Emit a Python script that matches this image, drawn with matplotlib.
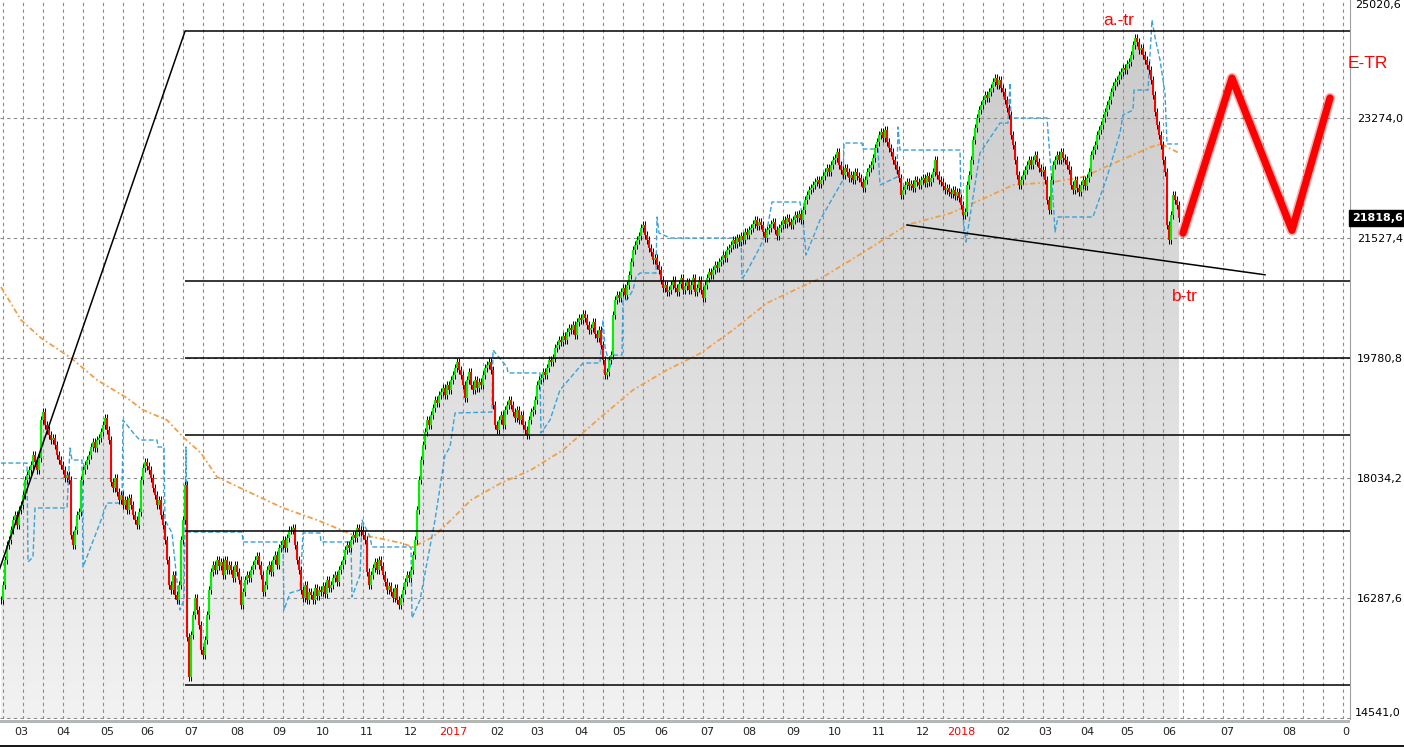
import numpy as np
import matplotlib
matplotlib.use("Agg")
import matplotlib.pyplot as plt
from matplotlib.colors import LinearSegmentedColormap
from matplotlib.patches import PathPatch, Rectangle
from matplotlib.transforms import blended_transform_factory

# daily closes (one bar every 2 px)
closes = [
    16258, 16476, 16840, 17058, 17131, 17277, 17423, 17495, 17350, 17568,
    17641, 17786, 18005, 18077, 18150, 18223, 18368, 18267, 18150, 18325,
    18878, 18995, 18805, 18732, 18660, 18587, 18616, 18514, 18368, 18296,
    18223, 18150, 18034, 18077, 18005, 17204, 17058, 17277, 17495, 17539,
    18005, 18150, 18223, 18296, 18368, 18485, 18558, 18470, 18587, 18616,
    18703, 18805, 18907, 18732, 18587, 17976, 17888, 18034, 17830, 17714,
    17786, 17641, 17714, 17568, 17743, 17641, 17495, 17423, 17350, 17539,
    18005, 18179, 18267, 18209, 18150, 18034, 17888, 17786, 17641, 17714,
    17495, 17350, 17131, 16840, 16476, 16404, 16622, 16331, 16258, 16476,
    17131, 17423, 17932, 15720, 15138, 15749, 16040, 16287, 16112, 15894,
    15531, 15458, 15676, 16040, 16404, 16665, 16767, 16695, 16840, 16753,
    16811, 16622, 16840, 16695, 16767, 16695, 16578, 16767, 16665, 16549,
    16185, 16374, 16549, 16622, 16578, 16695, 16767, 16840, 16898, 16767,
    16622, 16374, 16476, 16695, 16767, 16665, 16840, 16913, 16767, 17015,
    17058, 17131, 17015, 17160, 17277, 17277, 17306, 17058, 16840, 16695,
    16404, 16287, 16476, 16258, 16374, 16331, 16258, 16433, 16316, 16404,
    16374, 16462, 16345, 16549, 16433, 16476, 16578, 16622, 16520, 16695,
    16767, 16840, 16986, 17058, 17015, 17131, 17204, 17160, 17306, 17248,
    17277, 17204, 17131, 16665, 16476, 16622, 16724, 16811, 16695, 16840,
    16753, 16622, 16520, 16404, 16462, 16374, 16287, 16433, 16258, 16185,
    16287, 16404, 16520, 16622, 16578, 16695, 16913, 17131, 17568, 18005,
    18296, 18514, 18703, 18878, 18805, 18951, 19053, 19169, 19125, 19242,
    19286, 19344, 19242, 19388, 19315, 19460, 19533, 19635, 19722, 19606,
    19533, 19388, 19198, 19460, 19577, 19388, 19315, 19460, 19344, 19431,
    19388, 19533, 19635, 19679, 19722, 19606, 19096, 18805, 18732, 18878,
    18951, 18805, 19024, 19096, 19169, 19096, 18995, 18907, 19024, 18878,
    18951, 18805, 18732, 18660, 18878, 18995, 19024, 19169, 19388, 19460,
    19489, 19577, 19533, 19635, 19751, 19722, 19780, 19926, 19970, 20042,
    20013, 20101, 20042, 20159, 20217, 20188, 20261, 20115, 20304, 20363,
    20333, 20421, 20363, 20261, 20188, 20217, 20304, 20130, 20072, 20188,
    19970, 19751, 19533, 19577, 19751, 19824, 20406, 20625, 20697, 20654,
    20741, 20799, 20697, 20843, 20988, 21178, 21353, 21425, 21499, 21556,
    21673, 21716, 21571, 21499, 21382, 21323, 21207, 21236, 21134, 21062,
    20916, 20799, 20843, 20741, 20770, 20843, 20916, 20799, 20741, 20857,
    20945, 20770, 20828, 20887, 20770, 20843, 20945, 20741, 20799, 20916,
    20770, 20654, 20843, 20945, 21032, 20988, 21062, 21134, 21090, 21178,
    21207, 21280, 21236, 21353, 21382, 21425, 21499, 21440, 21527, 21469,
    21556, 21499, 21615, 21571, 21644, 21673, 21731, 21789, 21702, 21760,
    21716, 21615, 21527, 21644, 21673, 21731, 21760, 21644, 21556, 21673,
    21716, 21789, 21731, 21818, 21760, 21716, 21789, 21862, 21818, 21877,
    21789, 21935, 22080, 22153, 22226, 22255, 22298, 22342, 22372, 22313,
    22372, 22430, 22488, 22546, 22488, 22589, 22662, 22691, 22779, 22589,
    22517, 22444, 22546, 22488, 22400, 22444, 22372, 22488, 22430, 22400,
    22342, 22255, 22372, 22488, 22546, 22589, 22691, 22837, 22924, 23026,
    23070, 22982, 23099, 22924, 22837, 22779, 22662, 22589, 22517, 22400,
    22153, 22226, 22298, 22342, 22284, 22313, 22255, 22372, 22342, 22298,
    22372, 22400, 22328, 22430, 22342, 22400, 22488, 22662, 22444, 22372,
    22342, 22284, 22226, 22255, 22197, 22167, 22226, 22138, 22197, 22109,
    22007, 21862, 21905, 22298, 22444, 22662, 22953, 23128, 23274, 23390,
    23463, 23536, 23608, 23565, 23652, 23710, 23798, 23856, 23754, 23827,
    23710, 23652, 23536, 23419, 23317, 23026, 22881, 22662, 22444, 22298,
    22372, 22444, 22517, 22589, 22662, 22589, 22662, 22735, 22633, 22546,
    22488, 22517, 22372, 22080, 21935, 22372, 22589, 22662, 22735, 22662,
    22779, 22691, 22662, 22589, 22517, 22298, 22226, 22372, 22255, 22197,
    22298, 22372, 22284, 22400, 22488, 22735, 22808, 22881, 23026, 23099,
    23172, 23274, 23361, 23463, 23536, 23652, 23739, 23798, 23827, 23900,
    23943, 24001, 23972, 24060, 24089, 24190, 24336, 24438, 24380, 24264,
    24292, 24190, 24118, 24045, 23972, 23827, 23608, 23361, 23172, 23026,
    22881, 22662, 22488, 21716, 21499, 21862, 22153, 22080, 22007, 21818.6,
]
last_price = 21818.6

# 200-bar average (orange)
ma_idx = [0, 10, 20, 35, 48, 63, 71, 83, 91, 100, 108, 125, 141, 158, 175, 186,
          200, 206, 216, 225, 235, 250, 265, 281, 300, 316, 333, 350, 366, 383,
          400, 411, 425, 433, 453, 475, 493, 506, 526, 541, 559, 575, 580, 583, 589]
ma_val = [20814, 20334, 20072, 19781, 19461, 19198, 19024, 18878, 18631, 18398,
          18049, 17816, 17598, 17423, 17219, 17176, 17088, 17030, 17176, 17423,
          17714, 17961, 18151, 18442, 18922, 19315, 19606, 19854, 20188, 20581,
          20814, 20960, 21207, 21353, 21717, 21891, 22124, 22299, 22342, 22415,
          22648, 22852, 22896, 22852, 22765]

# trailing stop line (blue)
stop_idx = [0, 13, 13.5, 16, 17, 33, 34.5, 35.5, 40.5, 41, 49.5, 53, 60.5, 61, 67,
            69.5, 78, 78.5, 81.5, 82, 85.5, 89.5, 91.5, 92.5, 93, 120.5, 121, 141,
            141.5, 144.5, 149.5, 151, 159.5, 160, 175, 175.5, 179.5, 180.5, 184.5,
            185.5, 205, 205.5, 209.5, 217, 222, 224.5, 227, 245.5, 246, 248, 253,
            253.5, 269.5, 270, 274.5, 279.5, 291, 299.5, 301, 302, 304.5, 305.5,
            310.5, 311, 313, 316, 317.5, 319.5, 327.5, 328, 329, 333.5, 334.5, 370,
            370.5, 372, 379.5, 383, 385.5, 399.5, 401, 402.5, 409.5, 421, 421.5,
            430.5, 431, 438.5, 439.5, 448, 448.5, 449.5, 479.5, 480, 482.5, 489.5,
            499.5, 503.5, 504.5, 505, 523, 526, 527, 528.5, 546, 553, 559.5, 561,
            566, 566.5, 573.5, 575.5, 577, 579.5, 582, 583, 588.5]
stop_val = [18252, 18252, 16812, 16884, 17598, 17598, 18471, 18296, 18296, 16739,
            17379, 17670, 17670, 18878, 18660, 18587, 18587, 18485, 18485, 17423,
            17234, 16113, 16259, 18485, 17248, 17248, 17103, 17103, 16113, 16361,
            16404, 17234, 17234, 17103, 17103, 16302, 16622, 17423, 17176, 17030,
            17030, 15996, 16259, 17423, 18369, 18485, 18980, 18995, 19897, 19824,
            19650, 19563, 19563, 18689, 18878, 19315, 19708, 19708, 20334, 19941,
            19650, 19824, 19824, 20625, 20625, 20771, 20960, 21018, 21018, 21833,
            21600, 21542, 21527, 21527, 20945, 20989, 21397, 21644, 22051, 22051,
            21789, 21280, 21789, 22372, 22910, 22910, 22823, 22823, 22299, 22415,
            23143, 22808, 22808, 22080, 21469, 22765, 23201, 23201, 23783, 23274,
            23274, 22124, 21615, 21833, 21833, 22415, 23056, 23318, 23390, 23681,
            23681, 24700, 24453, 24118, 23638, 22896, 22896]

# fibonacci retracement anchors and levels
fib_idx = [-20.7, 92]
fib_price = [15021, 24536]
fib_ratios = [0.0, 0.382, 0.5, 0.618, 0.764, 1.0]

# support trend line
trend_idx = [453, 632]
trend_price = [21717, 20992]

# projected E-TR zigzag
proj_idx = [591, 615.5, 645.5, 664.5]
proj_price = [21600, 23856, 21638, 23565]

price_ticks = [25020.6, 23274.0, 21527.4, 19780.8, 18034.2, 16287.6, 14541.0]

month_idx = [10, 31, 53, 73, 95, 118, 139, 161, 183, 205, 226, 248, 268, 290, 309,
             330, 353, 374, 396, 417, 439, 461, 480, 501, 522, 543, 563, 584, 613,
             644, 674]
month_lbl = ["03", "04", "05", "06", "07", "08", "09", "10", "11", "12", "2017",
             "02", "03", "04", "05", "06", "07", "08", "09", "10", "11", "12",
             "2018", "02", "03", "04", "05", "06", "07", "08", "09"]

n = len(closes)
idx = np.arange(n)
c = np.array(closes)
o = np.concatenate([[c[0]], c[:-1]])
wick = 60
hi = np.maximum(o, c) + wick
lo = np.minimum(o, c) - wick

W, H = 1404, 747
fig = plt.figure(figsize=(W / 100, H / 100), dpi=100)
fig.patch.set_facecolor("white")
ax = fig.add_axes([0, 28 / H, 1350 / W, 719 / H])
xmin, xmax = -0.5, 674.5
ymin, ymax = 14526.5, 24991.5

# grey gradient area under the closes
area = ax.fill_between(idx, c, ymin, color="none", lw=0)
clip = PathPatch(area.get_paths()[0], transform=ax.transData, fc="none", ec="none")
ax.add_patch(clip)
cmap = LinearSegmentedColormap.from_list("g", ["#f2f2f2", "#c9c9c9"])
grad = np.linspace(0, 1, 256).reshape(-1, 1)
im = ax.imshow(grad, extent=[-0.5, n - 0.5, ymin, ymax], origin="lower",
               aspect="auto", cmap=cmap, zorder=0.5)
im.set_clip_path(clip)

# dashed grid
for gx in np.arange(0.85, xmax, 10):
    ax.axvline(gx, color="#8c8c8c", lw=0.8, dashes=(3, 3), zorder=1)
for gy in price_ticks:
    ax.axhline(gy, color="#8c8c8c", lw=0.8, dashes=(3, 3), zorder=1)

# indicators
ax.plot(ma_idx, ma_val, color="#f0a04a", lw=1.3, dashes=(3, 1.5, 1, 1.5), zorder=2.5)
ax.plot(stop_idx, stop_val, color="#3aa2d8", lw=1.0, dashes=(3.5, 1.8), zorder=2.6)

# candles
cols = np.where(c >= o, "#00f000", "#ff0000")
ax.vlines(idx, lo, hi, color="black", lw=0.7, zorder=3)
ax.vlines(idx, np.minimum(o, c), np.maximum(o, c), colors=cols, lw=1.5, zorder=4)

# fibonacci
ax.plot(fib_idx, fib_price, color="black", lw=1.1, zorder=5)
f_hi, f_lo = fib_price[1], fib_price[0]
for r in fib_ratios:
    lvl = f_hi - r * (f_hi - f_lo)
    ax.hlines(lvl, fib_idx[1], xmax, color="black", lw=1.1, zorder=5)

ax.plot(trend_idx, trend_price, color="black", lw=1.1, zorder=5)

# projection
ax.plot(proj_idx, proj_price, color="#ff0000", lw=7.5, alpha=0.3,
        solid_capstyle="round", solid_joinstyle="round", zorder=6)
ax.plot(proj_idx, proj_price, color="#ff0000", lw=5.2,
        solid_capstyle="round", solid_joinstyle="round", zorder=6)

tfont = dict(color="#ff0000", fontsize=12.5, family="Liberation Sans")
ax.text(559, 24700, "a.-tr", ha="center", va="center", **tfont)
ax.text(592, 20683, "b-tr", ha="center", va="center", **tfont)
ax.text(673.5, 24074, "E-TR", ha="left", va="center", clip_on=False, **tfont)

ax.set_xlim(xmin, xmax)
ax.set_ylim(ymin, ymax)

# right price scale
ax.yaxis.tick_right()
ax.set_yticks(price_ticks[1:-1])
ax.set_yticklabels([f"{v:.1f}".replace(".", ",") for v in price_ticks[1:-1]])
ax.tick_params(axis="y", length=0, pad=5, labelsize=8, labelcolor="black")
tr = blended_transform_factory(ax.transAxes, ax.transData)
ax.text(1.0035, ymax, f"{price_ticks[0]:.1f}".replace(".", ","), transform=tr,
        fontsize=8, ha="left", va="top")
ax.text(1.0035, price_ticks[-1] + 70, f"{price_ticks[-1]:.1f}".replace(".", ","),
        transform=tr, fontsize=8, ha="left", va="center")
ax.text(1.0015, last_price, f"{last_price:.1f}".replace(".", ","), transform=tr,
        fontsize=8, fontweight="bold", color="white", ha="left", va="center",
        bbox=dict(boxstyle="square,pad=0.25", fc="black", ec="black"))

# bottom month scale
ax.set_xticks(month_idx)
ax.set_xticklabels(month_lbl)
ax.tick_params(axis="x", length=0, pad=6, labelsize=8, labelcolor="#222222")
for t in ax.get_xticklabels():
    if len(t.get_text()) == 4:
        t.set_color("#ff0000")

for s in ["top", "left", "bottom"]:
    ax.spines[s].set_visible(False)
ax.spines["right"].set_color("#a0a0a0")

fig.patches.append(Rectangle((0, (H - 723) / H), 1350 / W, 3 / H, transform=fig.transFigure,
                             fc="#b4b8b4", ec="none", zorder=10))
fig.patches.append(Rectangle((1350 / W, 2 / H), 54 / W, 21 / H, transform=fig.transFigure,
                             fc="white", ec="none", zorder=10))
fig.patches.append(Rectangle((0, 0), 1, 2 / H, transform=fig.transFigure,
                             fc="#1a1a1a", ec="none", zorder=10))

fig.savefig("out.png", dpi=100)
